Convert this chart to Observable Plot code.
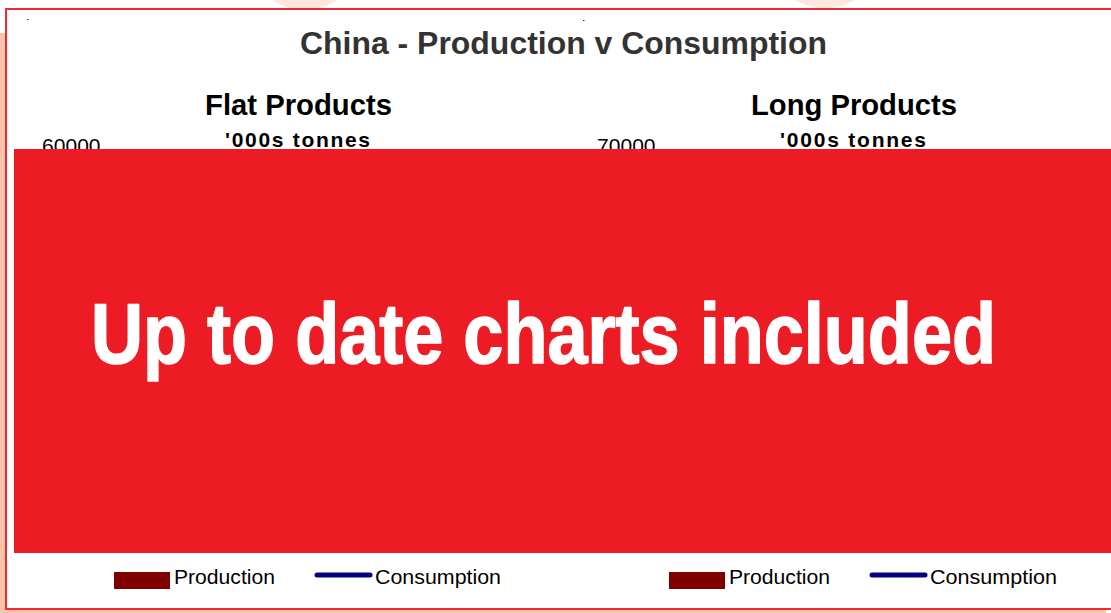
<!DOCTYPE html>
<html>
<head>
<meta charset="utf-8">
<script src="https://cdn.jsdelivr.net/npm/d3@7"></script>
<script src="https://cdn.jsdelivr.net/npm/@observablehq/plot@0.6"></script>
<style>
  html, body { margin: 0; padding: 0; background: #fff; }
  body { width: 1111px; height: 613px; position: relative; overflow: hidden; font-family: "Liberation Sans", Arial, sans-serif; }
  .abs { position: absolute; }
  #peachLeft { left: 0; top: 33px; width: 5px; height: 580px; background: #FCC3A9; }
  #peachBottom { left: 0; top: 610px; width: 1106px; height: 3px; background: #FCC3A9; }
  .ring { border-radius: 50%; border-style: solid; border-color: #FEE7DC; box-sizing: border-box; }
  #frame { left: 5px; top: 8px; width: 1130px; height: 602px; border: 2.5px solid #EF2A36; box-sizing: border-box; background: #fff; }
  #flat { left: 14px; top: 136px; }
  #long { left: 560px; top: 136px; }
  #banner { left: 14px; top: 149px; width: 1097px; height: 404px; background: #ED1C24; z-index: 5; }
  #overlay { left: 0; top: 0; z-index: 6; pointer-events: none; }
</style>
</head>
<body>
<div class="abs" id="peachLeft"></div>
<div class="abs" id="peachBottom"></div>
<div class="abs ring" style="left:250px;top:-95px;width:110px;height:105px;border-width:22px;"></div>
<div class="abs ring" style="left:765px;top:-110px;width:120px;height:118px;border-width:26px;"></div>
<div class="abs" id="frame"></div>
<div class="abs" id="flat"></div>
<div class="abs" id="long"></div>
<div class="abs" id="banner"></div>
<svg class="abs" id="overlay" width="1111" height="613" xmlns="http://www.w3.org/2000/svg"></svg>
<script>
// ---- data ('000s tonnes) ----
const years = ["2000", "2001", "2002", "2003", "2004", "2005", "2006"];
const flatProduction  = [21000, 24500, 29000, 34500, 40800, 47600, 55200];
const flatConsumption = [33200, 37600, 43500, 49800, 53100, 55900, 57400];
const longProduction  = [35800, 40100, 47200, 55300, 60800, 64100, 67800];
const longConsumption = [34500, 38900, 46400, 54600, 58900, 62200, 64900];
const flatTicks = [0, 10000, 20000, 30000, 40000, 50000, 60000];
const longTicks = [0, 10000, 20000, 30000, 40000, 50000, 60000, 70000];
const chartTitle = "China - Production v Consumption";
const panelTitles = ["Flat Products", "Long Products"];
const unitLabel = "'000s tonnes";
const seriesNames = ["Production", "Consumption"];
const bannerText = "Up to date charts included";

function panel(prod, cons, ticks, width, marginLeft) {
  const rows = years.map((y, i) => ({year: y, production: prod[i], consumption: cons[i]}));
  return Plot.plot({
    width, height: 414,
    marginTop: 10, marginBottom: 40, marginLeft, marginRight: 16,
    style: {fontSize: "21px", fontFamily: "'Liberation Sans', Arial, sans-serif", color: "#000", background: "transparent"},
    x: {domain: years, label: null, padding: 0.4, tickSize: 0},
    y: {domain: [0, ticks[ticks.length - 1]], ticks, tickFormat: d3.format("d"), label: null, tickSize: 0, tickPadding: 9},
    marks: [
      Plot.barY(rows, {x: "year", y: "production", fill: "#800000"}),
      Plot.lineY(rows, {x: "year", y: "consumption", stroke: "#000080", strokeWidth: 4}),
      Plot.ruleY([0])
    ]
  });
}
document.getElementById("flat").append(panel(flatProduction, flatConsumption, flatTicks, 540, 95));
document.getElementById("long").append(panel(longProduction, longConsumption, longTicks, 551, 104));

// ---- texts & legend overlay ----
const svg = d3.select("#overlay");
function txt(s, x, y, size, weight, fill, len, family, adjust) {
  return svg.append("text").attr("x", x).attr("y", y)
    .attr("font-size", size).attr("font-weight", weight).attr("fill", fill)
    .attr("font-family", family || "'Liberation Sans', Arial, sans-serif")
    .attr("textLength", len).attr("lengthAdjust", adjust || "spacingAndGlyphs")
    .text(s);
}
// tiny marks
svg.append("rect").attr("x", 27).attr("y", 19).attr("width", 1.5).attr("height", 1).attr("fill", "#333");
svg.append("rect").attr("x", 583).attr("y", 20).attr("width", 1.5).attr("height", 1).attr("fill", "#333");

txt(chartTitle, 300, 54, 32, "bold", "#333", 527);
txt(panelTitles[0], 205, 115, 29, "bold", "#000", 187);
txt(panelTitles[1], 751, 115, 29, "bold", "#000", 206);
txt(unitLabel, 225, 147, 21, "bold", "#000", 145, null, "spacing");
txt(unitLabel, 780, 147, 21, "bold", "#000", 146, null, "spacing");

// banner text
txt(bannerText, 91, 363, 86, "bold", "#fff", 905, "'Liberation Sans', Arial, sans-serif")
  .attr("stroke", "#fff").attr("stroke-width", 1.6).attr("stroke-linejoin", "round");

// legends
function legend(x0, prodTextX, lineX1, lineX2, consTextX, consLen) {
  svg.append("rect").attr("x", x0).attr("y", 572).attr("width", 56).attr("height", 17).attr("fill", "#800000");
  txt(seriesNames[0], prodTextX, 584, 20, "normal", "#000", 101);
  svg.append("line").attr("x1", lineX1).attr("x2", lineX2).attr("y1", 575).attr("y2", 575)
    .attr("stroke", "#000080").attr("stroke-width", 5).attr("stroke-linecap", "round");
  txt(seriesNames[1], consTextX, 584, 20, "normal", "#000", consLen);
}
legend(114, 174, 317, 370, 375, 126);
legend(669, 729, 872, 925, 930, 127);
</script>
</body>
</html>
